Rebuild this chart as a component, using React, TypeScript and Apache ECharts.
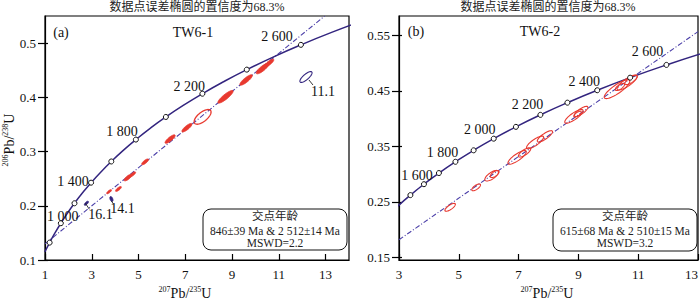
import React, { useEffect, useRef } from 'react';
import * as echarts from 'echarts';

// ---------- data ----------
const concordiaAges = [700, 800, 900, 1000, 1100, 1200, 1300, 1400, 1500, 1600, 1700, 1800, 1900, 2000, 2100, 2200, 2300, 2400, 2500, 2600, 2700, 2800];
const concordia207 = [0.9925, 1.1987, 1.4263, 1.6774, 1.9545, 2.2603, 2.5977, 2.9701, 3.381, 3.8344, 4.3347, 4.8869, 5.4962, 6.1685, 6.9105, 7.7292, 8.6326, 9.6296, 10.7297, 11.9437, 13.2834, 14.7614];
const concordia206 = [0.1147, 0.1321, 0.1498, 0.1678, 0.1861, 0.2046, 0.2234, 0.2426, 0.262, 0.2817, 0.3018, 0.3221, 0.3428, 0.3638, 0.3851, 0.4067, 0.4287, 0.4511, 0.4738, 0.4968, 0.5202, 0.544];

const tw61MarkerAges = [800, 1000, 1200, 1400, 1600, 1800, 2000, 2200, 2400, 2600];
const tw61LabelAges = [1000, 1400, 1800, 2200, 2600];
const tw62MarkerAges = [1500, 1600, 1700, 1800, 1900, 2000, 2100, 2200, 2300, 2400, 2500, 2600];
const tw62LabelAges = [1600, 1800, 2000, 2200, 2400, 2600];

const tw61XTicks = [1, 3, 5, 7, 9, 11, 13];
const tw61YTicks = [0.1, 0.2, 0.3, 0.4, 0.5];
const tw62XTicks = [3, 5, 7, 9, 11, 13];
const tw62YTicks = [0.15, 0.25, 0.35, 0.45, 0.55];

// discordia end points (207Pb/235U, 206Pb/238U)
const tw61Discordia207 = [1.0, 12.96];
const tw61Discordia206 = [0.1297, 0.55];
const tw62Discordia207 = [3.0, 13.0];
const tw62Discordia206 = [0.1815, 0.5568];

// error ellipses: [x, y, half-major dx, half-major dy, minor/major]
const tw61Ellipses = [
  [10.3, 0.453, 0.26, 0.0091, 0.3],
  [10.58, 0.463, 0.2, 0.007, 0.3],
  [9.6, 0.432, 0.26, 0.0091, 0.28],
  [8.72, 0.401, 0.32, 0.0112, 0.25],
  [7.07, 0.344, 0.21, 0.0074, 0.3],
  [6.35, 0.323, 0.21, 0.0074, 0.3],
  [5.28, 0.281, 0.14, 0.0049, 0.35],
  [4.55, 0.252, 0.16, 0.0056, 0.35],
  [4.75, 0.258, 0.12, 0.0042, 0.35],
  [4.14, 0.231, 0.12, 0.0042, 0.35],
  [3.74, 0.226, 0.1, 0.0035, 0.35],
];
const tw61OpenEllipses = [[7.74, 0.364, 0.34, 0.0119, 0.45]];
const tw61OutlierNames = ['11.1', '14.1', '16.1'];
const tw61Outliers = [
  [12.16, 0.4375, 0.25, 0.0092, 0.35],
  [3.84, 0.2125, 0.04, -0.0045, 0.5],
  [2.77, 0.2046, 0.08, 0.0035, 0.4],
];
const tw62Ellipses = [
  [10.29, 0.453, 0.42, 0.0158, 0.28],
  [10.63, 0.465, 0.33, 0.0124, 0.3],
  [10.39, 0.457, 0.15, 0.0056, 0.4],
  [10.76, 0.4696, 0.2, 0.0075, 0.35],
  [8.85, 0.404, 0.3, 0.0113, 0.3],
  [9.09, 0.413, 0.22, 0.0083, 0.32],
  [8.97, 0.408, 0.12, 0.0045, 0.4],
  [7.55, 0.357, 0.28, 0.0105, 0.3],
  [7.88, 0.368, 0.25, 0.0094, 0.3],
  [6.95, 0.33, 0.3, 0.0113, 0.3],
  [7.2, 0.339, 0.2, 0.0075, 0.35],
  [6.1, 0.297, 0.22, 0.0083, 0.4],
  [6.2, 0.3, 0.14, 0.0053, 0.45],
  [5.58, 0.276, 0.14, 0.0053, 0.4],
  [4.71, 0.24, 0.17, 0.0064, 0.35],
];

const panelTitle = '数据点误差椭圆的置信度为68.3%';
const tw61Box = ['交点年龄', '846±39 Ma & 2 512±14 Ma', 'MSWD=2.2'];
const tw62Box = ['交点年龄', '615±68 Ma & 2 510±15 Ma', 'MSWD=3.2'];

// ---------- styles ----------
const SERIF = "'Liberation Serif', 'Times New Roman', 'DejaVu Serif', serif";
const CJK = "'Liberation Serif', 'Noto Sans CJK SC', sans-serif";
const CONCORDIA = '#33257f';
const DISCORDIA = '#4b3fa8';
const RED = '#e8392f';

const tw61LabelOffsets: Record<number, number[]> = {
  1000: [2, -7], 1400: [-18, -1], 1800: [-14, -8], 2200: [-13, -7], 2600: [-24, -8],
};
const tw62LabelOffsets: Record<number, number[]> = {
  1600: [-7, -9], 1800: [-13, -9], 2000: [-14, -9], 2200: [-13, -10], 2400: [-13, -9], 2600: [-19, -13],
};
const outlierLayout = [
  { label: [17, 14], leader: [3, 3, 7, 8] },
  { label: [11, 9], leader: [0, 2, 2, 5] },
  { label: [14, 11], leader: [-1, 0, 3, 6] },
];

const fmtAge = (a: number) => String(a).replace(/(\d)(\d{3})$/, '$1 $2');

function ellipsePoints(api: any) {
  const cx = api.value(0), cy = api.value(1), dx = api.value(2), dy = api.value(3), r = api.value(4);
  const c = api.coord([cx, cy]);
  const e = api.coord([cx + dx, cy + dy]);
  const vx = e[0] - c[0], vy = e[1] - c[1];
  const pts: number[][] = [];
  for (let k = 0; k < 48; k++) {
    const t = (k / 48) * Math.PI * 2;
    pts.push([
      c[0] + Math.cos(t) * vx + Math.sin(t) * (-vy * r),
      c[1] + Math.cos(t) * vy + Math.sin(t) * (vx * r),
    ]);
  }
  return { pts, c };
}

function ellipseSeries(data: number[][], xi: number, yi: number, style: any, z: number) {
  return {
    type: 'custom', xAxisIndex: xi, yAxisIndex: yi, z, clip: true,
    encode: { x: 0, y: 1 },
    data,
    renderItem: (_p: any, api: any) => {
      const { pts } = ellipsePoints(api);
      return { type: 'polygon', shape: { points: pts }, style };
    },
  };
}

function markerSeries(ages: number[], labelAges: number[], offsets: Record<number, number[]>, xi: number, yi: number) {
  return {
    type: 'scatter', xAxisIndex: xi, yAxisIndex: yi, z: 6,
    symbol: 'circle', symbolSize: 5,
    itemStyle: { color: '#fff', borderColor: '#111', borderWidth: 1, opacity: 1 },
    data: ages.map((age) => {
      const i = concordiaAges.indexOf(age);
      const shown = labelAges.indexOf(age) >= 0;
      return {
        value: [concordia207[i], concordia206[i]],
        label: {
          show: shown, position: 'inside', formatter: fmtAge(age),
          offset: offsets[age] || [0, 0],
          fontFamily: SERIF, fontSize: 14, color: '#111',
        },
      };
    }),
  };
}

function lineSeries(xs: number[], ys: number[], xi: number, yi: number, color: string, type: any, width: number, smooth: boolean, z: number) {
  return {
    type: 'line', xAxisIndex: xi, yAxisIndex: yi, z, clip: true, smooth,
    showSymbol: false, symbol: 'none',
    lineStyle: { color, width, type },
    data: xs.map((x, i) => [x, ys[i]]),
  };
}

function xAxisCfg(grid: number, min: number, max: number, ticks: number[], alignMax: boolean) {
  return {
    type: 'value', gridIndex: grid, min, max, position: 'bottom',
    axisLine: { show: true, onZero: false, lineStyle: { color: '#000', width: 1.2 } },
    axisTick: { show: true, inside: true, length: 6, customValues: ticks, lineStyle: { color: '#000', width: 1.2 } },
    axisLabel: {
      show: true, customValues: ticks, fontFamily: SERIF, fontSize: 13, color: '#111', margin: 8,
      ...(alignMax ? { alignMaxLabel: 'right' } : {}),
    },
    splitLine: { show: false },
  };
}

function yAxisCfgs(grid: number, min: number, max: number, ticks: number[]) {
  return [
    {
      type: 'value', gridIndex: grid, min, max, position: 'left',
      axisLine: { show: true, onZero: false, lineStyle: { color: '#000', width: 1.2 } },
      axisTick: { show: true, inside: false, length: 7, customValues: ticks, lineStyle: { color: '#000', width: 1.2 } },
      axisLabel: { show: true, customValues: ticks, fontFamily: SERIF, fontSize: 13, color: '#111', margin: 9 },
      splitLine: { show: false },
    },
    {
      type: 'value', gridIndex: grid, min, max, position: 'left',
      axisLine: { show: false },
      axisTick: { show: true, inside: true, length: 3, customValues: ticks, lineStyle: { color: '#000', width: 1.2 } },
      axisLabel: { show: false, customValues: ticks },
      splitLine: { show: false },
    },
  ];
}

function txt(x: number, y: number, text: string, size: number, family: string, color = '#111', extra: any = {}) {
  return {
    type: 'text', x, y, z: 100,
    style: {
      text, fontSize: size, fontFamily: family, fill: color,
      align: 'center', verticalAlign: 'middle', textAlign: 'center', textVerticalAlign: 'middle',
      ...extra,
    },
  };
}

function richName(x: number, y: number, a: string, b: string, rotation = 0) {
  return {
    type: 'text', x, y, rotation, z: 100,
    style: {
      text: `{s|${a}}{n|Pb/}{s|${b}}{n|U}`,
      align: 'center', verticalAlign: 'middle', textAlign: 'center', textVerticalAlign: 'middle',
      rich: {
        s: { fontSize: 8, fontFamily: SERIF, fill: '#111', color: '#111', verticalAlign: 'top', lineHeight: 8 },
        n: { fontSize: 14, fontFamily: SERIF, fill: '#111', color: '#111', lineHeight: 16 },
      },
    },
  };
}

function boxGraphics(x: number, y: number, w: number, h: number, lines: string[]) {
  const cx = x + w / 2;
  return [
    { type: 'rect', z: 90, shape: { x, y, width: w, height: h, r: 8 }, style: { fill: '#fff', stroke: '#111', lineWidth: 1 } },
    txt(cx, y + 7, lines[0], 11.5, CJK, '#222'),
    txt(cx, y + 22, lines[1], 11.5, SERIF, '#222'),
    txt(cx, y + 34, lines[2], 11.5, SERIF, '#222'),
  ];
}

const outlierSeries = {
  type: 'custom', xAxisIndex: 0, yAxisIndex: 0, z: 7, clip: false,
  encode: { x: 0, y: 1 },
  data: tw61Outliers,
  renderItem: (p: any, api: any) => {
    const { pts, c } = ellipsePoints(api);
    const lay = outlierLayout[p.dataIndex];
    const open = p.dataIndex === 0;
    return {
      type: 'group',
      children: [
        {
          type: 'polygon', shape: { points: pts },
          style: open ? { fill: 'none', stroke: CONCORDIA, lineWidth: 1.1 } : { fill: CONCORDIA, stroke: CONCORDIA, lineWidth: 1 },
        },
        {
          type: 'line',
          shape: { x1: c[0] + lay.leader[0], y1: c[1] + lay.leader[1], x2: c[0] + lay.leader[2], y2: c[1] + lay.leader[3] },
          style: { stroke: '#222', lineWidth: 0.9 },
        },
        {
          type: 'text', x: c[0] + lay.label[0], y: c[1] + lay.label[1],
          style: {
            text: tw61OutlierNames[p.dataIndex], fontSize: 14, fontFamily: SERIF, fill: '#111',
            align: 'center', verticalAlign: 'middle',
          },
        },
      ],
    };
  },
};

const option: any = {
  animation: false,
  backgroundColor: '#fff',
  grid: [
    { left: 45, top: 16, width: 304, height: 244, show: true, borderColor: '#000', borderWidth: 1.2, containLabel: false, outerBoundsMode: 'none' },
    { left: 399, top: 16, width: 299, height: 244, show: true, borderColor: '#000', borderWidth: 1.2, containLabel: false, outerBoundsMode: 'none' },
  ],
  xAxis: [xAxisCfg(0, 1, 14, tw61XTicks, false), xAxisCfg(1, 3, 13, tw62XTicks, true)],
  yAxis: [...yAxisCfgs(0, 0.1, 0.55, tw61YTicks), ...yAxisCfgs(1, 0.145, 0.585, tw62YTicks)],
  series: [
    lineSeries(concordia207, concordia206, 0, 0, CONCORDIA, 'solid', 1.5, true, 3),
    lineSeries(tw61Discordia207, tw61Discordia206, 0, 0, DISCORDIA, [5, 2, 1, 2], 1.1, false, 2),
    ellipseSeries(tw61Ellipses, 0, 0, { fill: RED, stroke: RED, lineWidth: 0.8 }, 4),
    ellipseSeries(tw61OpenEllipses, 0, 0, { fill: 'none', stroke: RED, lineWidth: 1.3 }, 4),
    outlierSeries,
    markerSeries(tw61MarkerAges, tw61LabelAges, tw61LabelOffsets, 0, 0),

    lineSeries(concordia207, concordia206, 1, 2, CONCORDIA, 'solid', 1.5, true, 3),
    lineSeries(tw62Discordia207, tw62Discordia206, 1, 2, DISCORDIA, [5, 2, 1, 2], 1.1, false, 2),
    ellipseSeries(tw62Ellipses, 1, 2, { fill: 'none', stroke: RED, lineWidth: 1.1 }, 4),
    markerSeries(tw62MarkerAges, tw62LabelAges, tw62LabelOffsets, 1, 2),
  ],
  graphic: [
    txt(197, 7, panelTitle, 12, CJK, '#222'),
    txt(548, 7, panelTitle, 12, CJK, '#222'),
    txt(61, 32, '(a)', 14, SERIF),
    txt(193, 32, 'TW6-1', 14, SERIF),
    txt(416, 31, '(b)', 14, SERIF),
    txt(540, 31, 'TW6-2', 14, SERIF),
    richName(185, 293, '207', '235'),
    richName(547, 293, '207', '235'),
    richName(9, 140, '206', '238', Math.PI / 2),
    ...boxGraphics(203, 209, 144, 41, tw61Box),
    ...boxGraphics(553, 209, 144, 42, tw62Box),
  ],
};

export default function App() {
  const ref = useRef<HTMLDivElement>(null);
  useEffect(() => {
    const chart = echarts.init(ref.current as HTMLDivElement, null, { renderer: 'svg' });
    chart.setOption(option);
    return () => chart.dispose();
  }, []);
  return (
    <div
      ref={ref}
      style={{ position: 'absolute', left: 0, top: 0, width: 700, height: 301, background: '#fff' }}
    />
  );
}
